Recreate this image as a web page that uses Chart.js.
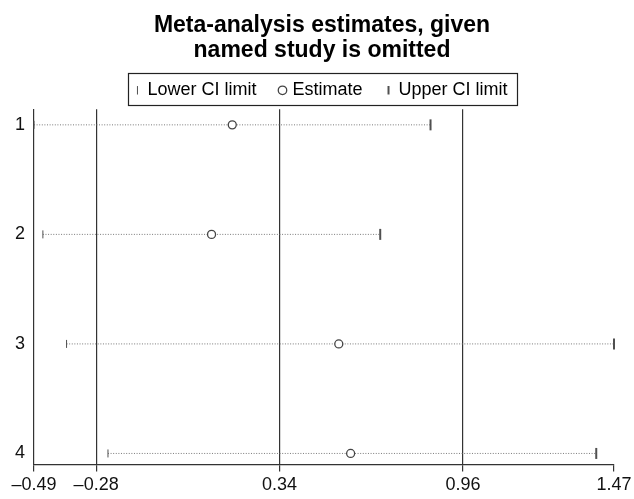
<!DOCTYPE html>
<html>
<head>
<meta charset="utf-8">
<script src="https://cdn.jsdelivr.net/npm/chart.js@4/dist/chart.umd.min.js"></script>
<style>
  html, body { margin: 0; padding: 0; background: #fff; }
  #wrap { width: 634px; height: 499px; position: relative; }
</style>
</head>
<body>
<div id="wrap"><canvas id="c" width="634" height="499"></canvas></div>
<script>
// ---- data ----
const studies = ['1', '2', '3', '4'];
const lowerCI = [-0.49, -0.46, -0.38, -0.24];
const estimate = [0.18, 0.11, 0.54, 0.58];
const upperCI = [0.85, 0.68, 1.47, 1.41];
const xTickValues = [-0.49, -0.28, 0.34, 0.96, 1.47];
const xTickLabels = ['\u20130.49', '\u20130.28', '0.34', '0.96', '1.47'];
const refLines = [-0.28, 0.34, 0.96];
const legendNames = ['Lower CI limit', 'Estimate', 'Upper CI limit'];

const FONT = '"Liberation Sans", Arial, Helvetica, sans-serif';
const DARK = '#333333';
const MARK = '#505050';

const toPts = (arr) => arr.map((v, i) => ({ x: v, y: i + 1 }));

const datasets = [
  { label: legendNames[0], data: toPts(lowerCI), pointStyle: 'line', rotation: 90,
    pointRadius: 4, pointBorderWidth: 1, borderColor: MARK, backgroundColor: MARK,
    borderWidth: 1, showLine: false, clip: false },
  { label: legendNames[1], data: toPts(estimate), pointStyle: 'circle',
    pointRadius: 4, pointBorderWidth: 1.3, borderColor: '#444', backgroundColor: '#ffffff',
    borderWidth: 1.3, showLine: false, clip: false },
  { label: legendNames[2], data: toPts(upperCI), pointStyle: 'line', rotation: 90,
    pointRadius: 5.5, pointBorderWidth: 2, borderColor: MARK, backgroundColor: MARK,
    borderWidth: 2, showLine: false, clip: false }
];
studies.forEach((s, i) => {
  datasets.push({
    label: 'ci-' + s,
    data: [{ x: lowerCI[i], y: i + 1 }, { x: upperCI[i], y: i + 1 }],
    showLine: true, pointRadius: 0, borderColor: '#7a7a7a', borderWidth: 1,
    borderDash: [1, 1.6], clip: false
  });
});

const legendFrame = {
  id: 'legendFrame',
  afterDraw(chart) {
    const lg = chart.legend;
    if (!lg || !lg.legendHitBoxes || !lg.legendHitBoxes.length) return;
    const hb = lg.legendHitBoxes;
    const left = Math.min(...hb.map(h => h.left)) - 8;
    const right = Math.max(...hb.map(h => h.left + h.width)) + 10;
    const top = Math.min(...hb.map(h => h.top)) - 8;
    const bottom = Math.max(...hb.map(h => h.top + h.height)) + 6;
    const ctx = chart.ctx;
    ctx.save();
    ctx.strokeStyle = '#222';
    ctx.lineWidth = 1.2;
    ctx.strokeRect(Math.round(left) + 0.5, Math.round(top) + 0.5, Math.round(right - left), Math.round(bottom - top));
    ctx.restore();
  }
};

new Chart(document.getElementById('c'), {
  type: 'scatter',
  data: { datasets },
  options: {
    responsive: false,
    animation: false,
    devicePixelRatio: 1,
    layout: { padding: { left: 10, right: 0, top: 0, bottom: 0 } },
    plugins: {
      title: {
        display: true,
        text: ['Meta-analysis estimates, given', 'named study is omitted'],
        color: '#000',
        font: { family: FONT, size: 23, weight: 'bold', lineHeight: 1.05 },
        padding: { top: 14, bottom: 4 }
      },
      legend: {
        display: true,
        position: 'top',
        labels: {
          usePointStyle: true,
          boxWidth: 2,
          boxHeight: 6,
          padding: 15,
          color: '#000',
          font: { family: FONT, size: 18 },
          generateLabels: (chart) => {
            const base = Chart.defaults.plugins.legend.labels.generateLabels(chart)
              .filter(it => legendNames.includes(it.text));
            return base.map((it, i) => Object.assign(it, {
              text: it.text + (i < base.length - 1 ? '  ' : '')
            }));
          }
        },
        onClick: () => {}
      },
      tooltip: { enabled: false }
    },
    scales: {
      x: {
        type: 'linear',
        min: -0.49,
        max: 1.47,
        afterBuildTicks: (scale) => { scale.ticks = xTickValues.map(v => ({ value: v })); },
        afterFit: (scale) => { scale.paddingRight = 20; },
        ticks: {
          autoSkip: false,
          maxRotation: 0,
          padding: 3,
          color: '#111',
          font: { family: FONT, size: 18 },
          callback: (v, i) => xTickLabels[i]
        },
        grid: {
          drawOnChartArea: true,
          drawTicks: true,
          tickLength: 7,
          lineWidth: 1.2,
          tickColor: DARK,
          color: (ctx) => (ctx.tick && refLines.includes(ctx.tick.value)) ? DARK : 'rgba(0,0,0,0)'
        },
        border: { display: true, color: DARK, width: 1.2 }
      },
      y: {
        type: 'linear',
        reverse: true,
        min: 0.858,
        max: 4.1,
        afterBuildTicks: (scale) => { scale.ticks = studies.map((s, i) => ({ value: i + 1 })); },
        afterFit: (scale) => { scale.width = 24; },
        ticks: {
          autoSkip: false,
          padding: 9,
          color: '#111',
          font: { family: FONT, size: 18 },
          callback: (v, i) => studies[i]
        },
        grid: { display: false, drawTicks: false },
        border: { display: true, color: DARK, width: 1.2 }
      }
    }
  },
  plugins: [legendFrame]
});
</script>
</body>
</html>
